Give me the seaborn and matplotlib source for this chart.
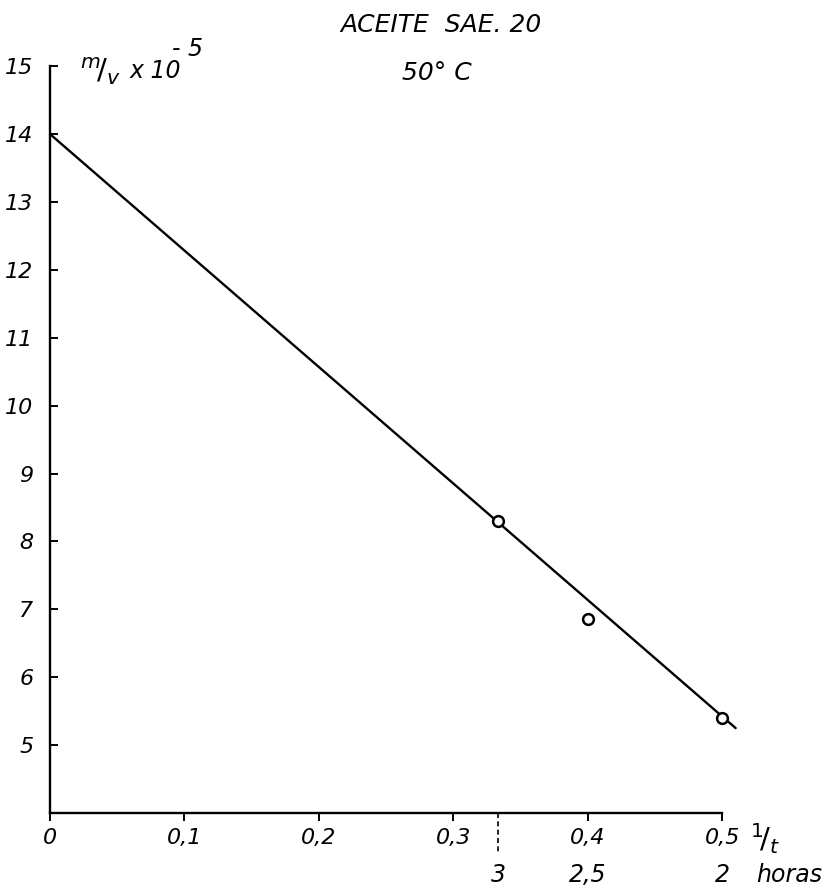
import matplotlib
matplotlib.use("Agg")
import matplotlib.pyplot as plt
import seaborn as sns
import pandas as pd

# data
x_points = [0.333, 0.40, 0.50]
y_points = [8.3, 6.85, 5.4]
line_x = [0.0, 0.51]
line_y = [14.0, 5.25]
x_ticks = [0, 0.1, 0.2, 0.3, 0.4, 0.5]
x_tick_labels = ["0", "0,1", "0,2", "0,3", "0,4", "0,5"]
y_ticks = [5, 6, 7, 8, 9, 10, 11, 12, 13, 14, 15]
hours_pos = [1/3, 0.4, 0.5]
hours_labels = ["3", "2,5", "2"]

sns.set_theme(style="white")
plt.rcParams['font.family'] = ['DejaVu Sans']
plt.rcParams['text.color'] = 'black'

fig = plt.figure(figsize=(8.33, 8.88), dpi=100)
ax = fig.add_axes([0.060, 0.0845, 0.807, 0.841])

pts = pd.DataFrame({"x": x_points, "y": y_points})
ln = pd.DataFrame({"x": line_x, "y": line_y})

sns.lineplot(data=ln, x="x", y="y", ax=ax, color="black", linewidth=1.7,
             clip_on=False)
sns.scatterplot(data=pts, x="x", y="y", ax=ax, s=60, marker="o",
                facecolor="white", edgecolor="black", linewidth=1.8,
                zorder=3, clip_on=False)

ax.set_xlim(0, 0.5)
ax.set_ylim(4, 15)
ax.set_xlabel("")
ax.set_ylabel("")
for s in ["top", "right"]:
    ax.spines[s].set_visible(False)
for s in ["left", "bottom"]:
    ax.spines[s].set_color("black")
    ax.spines[s].set_linewidth(1.7)

ax.set_xticks(x_ticks)
ax.set_xticklabels(x_tick_labels, fontsize=16, fontstyle="italic")
ax.set_yticks(y_ticks)
ax.set_yticklabels([str(v) for v in y_ticks], fontsize=16, fontstyle="italic")
ax.tick_params(axis="x", direction="out", length=6, width=1.4, pad=5,
               colors="black", bottom=True)
ax.tick_params(axis="y", direction="in", length=6, width=1.4, pad=12,
               colors="black", left=True)

# dashed marker at 3 hours
ax.plot([1/3, 1/3], [4, 3.43], color="black", linestyle=(0, (3, 2)),
        linewidth=1.2, clip_on=False)

# hours labels
for p, lab in zip(hours_pos, hours_labels):
    ax.text(p, 3.09, lab, ha="center", va="center", fontsize=17,
            fontstyle="italic", color="black")
ax.text(0.525, 3.09, "horas", ha="left", va="center", fontsize=17,
        fontstyle="italic", color="black")
ax.text(0.521, 3.62, r"$^{1}\!/_{t}$", ha="left", va="center", fontsize=21,
        color="black")

# y label and title
ax.text(0.022, 14.92, r"$^{m}\!/_{v}$", ha="left", va="center", fontsize=21,
        color="black")
ax.text(0.059, 14.93, "x 10", ha="left", va="center", fontsize=17,
        fontstyle="italic", color="black")
ax.text(0.091, 15.25, "- 5", ha="left", va="center", fontsize=17,
        fontstyle="italic", color="black")
fig.text(0.529, 0.972, "ACEITE  SAE. 20", ha="center", va="center",
         fontsize=18, fontstyle="italic", color="black")
fig.text(0.525, 0.918, "50° C", ha="center", va="center",
         fontsize=18, fontstyle="italic", color="black")

fig.savefig("out.png", dpi=100, facecolor="white")
